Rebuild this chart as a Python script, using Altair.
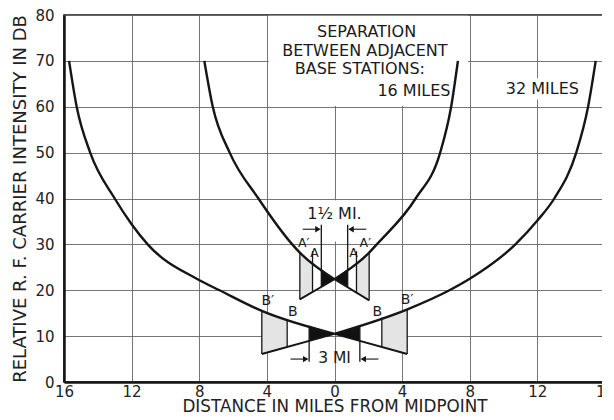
import altair as alt
import pandas as pd

# ---------------- values ----------------
x_ticks = [-16, -12, -8, -4, 0, 4, 8, 12, 16]
y_ticks = [0, 10, 20, 30, 40, 50, 60, 70, 80]

# 32-mile separation curves (miles from midpoint, dB)
outer_left_x = [-15.7, -15.25, -14.45, -13.0, -12.0, -11.05, -8.1, -6.8, -4.3, 0.0]
outer_left_y = [70, 60, 50, 40, 34.4, 30, 22.4, 20, 15.5, 10.5]
outer_right_x = [0.0, 4.35, 6.8, 8.0, 10.7, 12.0, 13.0, 14.3, 15.0, 15.45]
outer_right_y = [10.5, 15.9, 20, 22.5, 30, 35.2, 40, 50, 60, 70]

# 16-mile separation curves
inner_left_x = [-7.7, -7.2, -6.2, -4.5, -2.5, -2.05, 0.0]
inner_left_y = [70, 60, 50, 40, 30, 28.2, 22.4]
inner_right_x = [0.0, 2.05, 2.5, 4.8, 6.25, 6.9, 7.3]
inner_right_y = [22.4, 28.2, 30, 40, 50, 60, 70]

# bow-tie zones: crossing level, zone limits (black | clear | stippled),
# top corners (left, right), bottom corners (left, right)
outer_center = 10.5
outer_limits = [1.5, 2.8, 4.3]
outer_top = [15.5, 15.9]
outer_bottom = [6.1, 6.1]
inner_center = 22.4
inner_limits = [0.78, 1.3, 2.05]
inner_top = [28.2, 28.2]
inner_bottom = [18.0, 17.8]

outer_dim_y = 5.0      # "3 MI" dimension line
inner_dim_y = 33.3     # "1 1/2 MI." dimension line
a_label_ext = 28.5     # top of the A boundary ticks

zone_fills = ["#111111", "#ffffff", "#e4e4e4"]

texts = [
    ("SEPARATION", 1.9, 76.2, 16),
    ("BETWEEN ADJACENT", 1.8, 72.1, 16),
    ("BASE STATIONS:", 1.5, 68.2, 16),
    ("16 MILES", 4.7, 63.4, 16),
    ("32 MILES", 12.3, 63.8, 16),
    ("1½ MI.", 0.0, 36.6, 16),
    ("3 MI", 0.0, 5.2, 15.5),
    ("A′", -1.82, 30.3, 12.5),
    ("A", -1.18, 28.1, 12.5),
    ("A", 1.12, 28.1, 12.5),
    ("A′", 1.82, 30.3, 12.5),
    ("B′", -3.94, 17.6, 14),
    ("B", -2.47, 15.3, 14),
    ("B", 2.53, 15.3, 14),
    ("B′", 4.29, 17.9, 14),
]

# white backing behind the text block, "32 MILES" and the "1½ MI." gap
masks_x = [-3.9, 9.6, -0.2]
masks_x2 = [7.9, 15.0, 0.2]
masks_y = [60.15, 61.6, 30.6]
masks_y2 = [79.85, 66.2, 39.6]

# ---------------- build tables ----------------
rows = []
for name, xs, ys in [("ol", outer_left_x, outer_left_y), ("or", outer_right_x, outer_right_y),
                     ("il", inner_left_x, inner_left_y), ("ir", inner_right_x, inner_right_y)]:
    for i, (a, b) in enumerate(zip(xs, ys)):
        rows.append({"series": name, "i": i, "x": a, "y": b})
curves = pd.DataFrame(rows)

areas, edges, vrules, arrows, heads = [], [], [], [], []
ties = [("o", outer_center, outer_limits, outer_top, outer_bottom),
        ("i", inner_center, inner_limits, inner_top, inner_bottom)]
for tname, c, lim, tops, bots in ties:
    for side_idx, s in enumerate([-1, 1]):
        edge = lim[2]
        t_c, b_c = tops[side_idx], bots[side_idx]
        top = lambda d: c + (t_c - c) * d / edge
        bot = lambda d: c + (b_c - c) * d / edge
        bounds = [0.0] + lim
        for k in range(3):
            seg = f"{tname}{s}{k}"
            for d in (bounds[k], bounds[k + 1]):
                areas.append({"seg": seg, "x": s * d, "y": top(d), "y2": bot(d), "fill": zone_fills[k]})
        for j, d in enumerate((0.0, edge)):
            edges.append({"seg": f"{tname}{s}", "i": j, "x": s * d, "y": bot(d)})
        vrules.append({"x": s * edge, "y": bot(edge), "y2": top(edge)})
        d1 = lim[1]
        vrules.append({"x": s * d1, "y": bot(d1), "y2": top(d1) if tname == "o" else a_label_ext})
        d0 = lim[0]
        if tname == "o":
            vrules.append({"x": s * d0, "y": outer_dim_y - 0.6, "y2": top(d0)})
            ay = outer_dim_y
        else:
            vrules.append({"x": s * d0, "y": bot(d0), "y2": inner_dim_y + 1.0})
            ay = inner_dim_y
        arrows.append({"x": s * (d0 + 1.1), "x2": s * (d0 + 0.15), "y": ay})
        heads.append({"x": s * (d0 + 0.2), "y": ay, "shape": "triangle-right" if s < 0 else "triangle-left"})

areas = pd.DataFrame(areas)
edges = pd.DataFrame(edges)
vrules = pd.DataFrame(vrules)
arrows = pd.DataFrame(arrows)
heads = pd.DataFrame(heads)
labels = pd.DataFrame(texts, columns=["text", "x", "y", "size"])
masks = pd.DataFrame({"x": masks_x, "x2": masks_x2, "y": masks_y, "y2": masks_y2})

# ---------------- encodings ----------------
INK = "#151515"
xs = alt.Scale(domain=[-16, 16], nice=False, zero=False)
ys = alt.Scale(domain=[0, 80], nice=False, zero=False)
xaxis = alt.Axis(values=x_ticks, labelExpr="abs(datum.value) + ''", title="DISTANCE IN MILES FROM MIDPOINT",
                 ticks=False, labelPadding=2, titlePadding=-1, labelFlush=False, labelOverlap=False,
                 titleFontSize=16.8)
yaxis = alt.Axis(values=y_ticks, title="RELATIVE R. F. CARRIER INTENSITY IN DB", ticks=False,
                 labelPadding=10, titlePadding=5, labelOverlap=False, titleFontSize=18)


def X(f="x"):
    return alt.X(f"{f}:Q", scale=xs, axis=xaxis)


def Y(f="y"):
    return alt.Y(f"{f}:Q", scale=ys, axis=yaxis)


mask_layer = alt.Chart(masks).mark_rect(color="white").encode(
    x=X(), x2="x2:Q", y=Y(), y2="y2:Q")

area_layer = alt.Chart(areas).mark_area(opacity=1).encode(
    x=X(), y=Y(), y2="y2:Q", detail="seg:N", color=alt.Color("fill:N", scale=None))

curve_layer = alt.Chart(curves).mark_line(interpolate="monotone", strokeWidth=2.4, color=INK).encode(
    x=X(), y=Y(), detail="series:N", order="i:Q")

edge_layer = alt.Chart(edges).mark_line(strokeWidth=1.9, color=INK).encode(
    x=X(), y=Y(), detail="seg:N", order="i:Q")

vrule_layer = alt.Chart(vrules).mark_rule(strokeWidth=1.3, color=INK).encode(
    x=X(), y=Y(), y2="y2:Q")

arrow_layer = alt.Chart(arrows).mark_rule(strokeWidth=1.1, color=INK).encode(
    x=X(), x2="x2:Q", y=Y())

head_layer = alt.Chart(heads).mark_point(filled=True, size=40, color=INK, opacity=1).encode(
    x=X(), y=Y(), shape=alt.Shape("shape:N", scale=None))

text_layer = alt.Chart(labels).mark_text(font="DejaVu Sans", color="#1a1a1a", baseline="middle",
                                         align="center").encode(
    x=X(), y=Y(), text="text:N", size=alt.Size("size:Q", scale=None))

chart = alt.layer(mask_layer, area_layer, curve_layer, edge_layer, vrule_layer, arrow_layer,
                  head_layer, text_layer).properties(
    width=541, height=367,
    padding={"left": 3, "top": 0, "right": -13, "bottom": 0},
    background="white",
).configure_view(stroke=INK, strokeWidth=1.5).configure_axis(
    domainColor=INK, domainWidth=2.5, gridColor="#666666", gridWidth=0.9,
    labelFont="DejaVu Sans", labelFontSize=15, labelColor="#222",
    titleFont="DejaVu Sans", titleFontWeight="normal", titleColor="#222",
)

chart.save("out.html", embed_options={"renderer": "svg", "actions": False})
